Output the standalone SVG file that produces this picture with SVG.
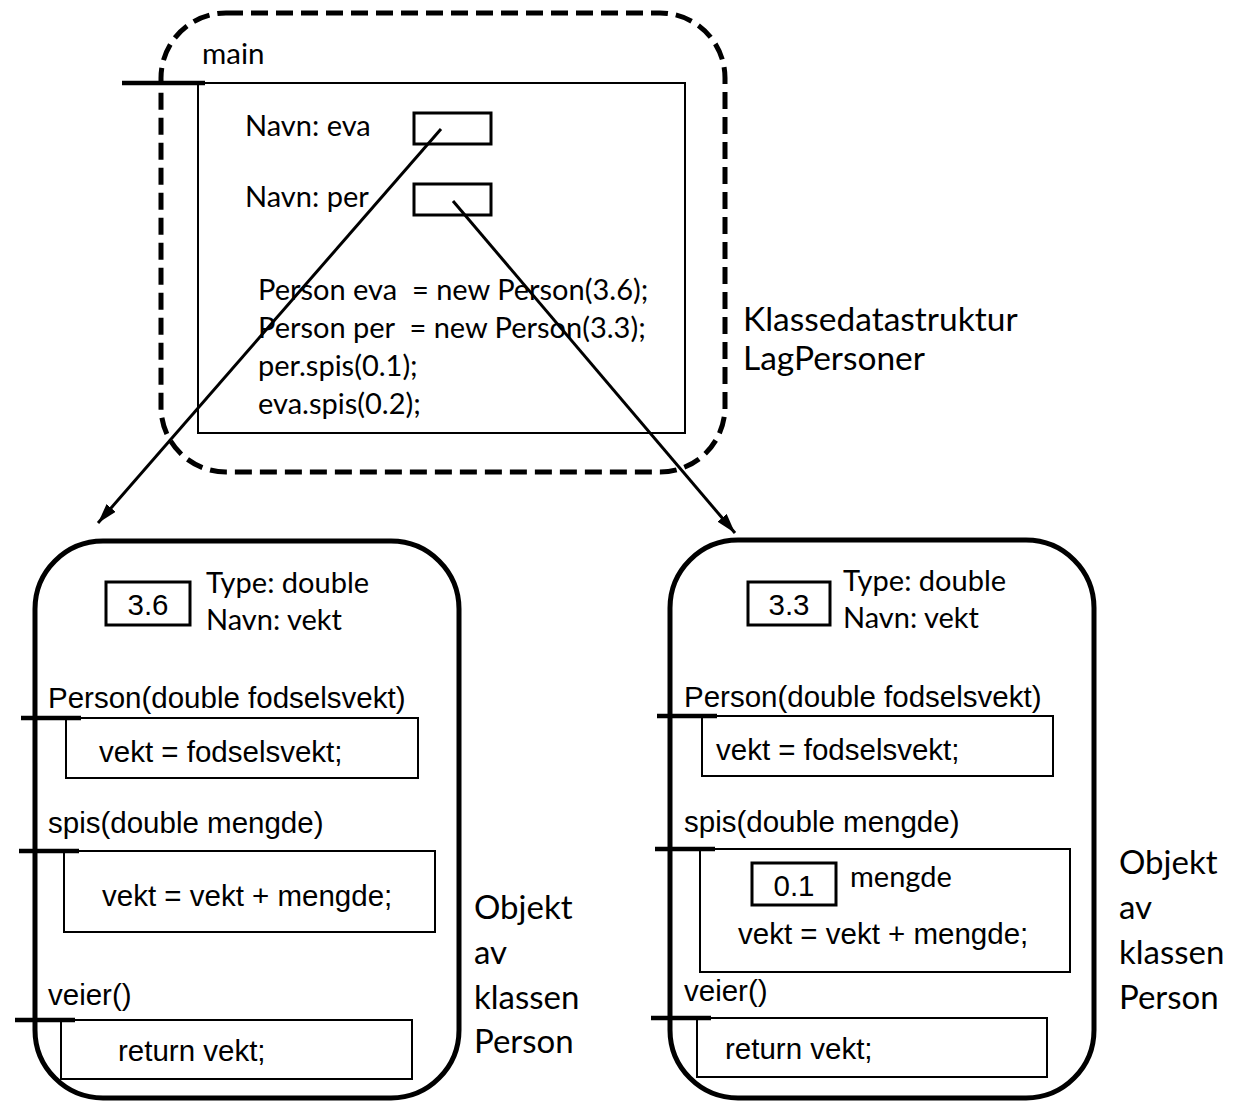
<svg xmlns="http://www.w3.org/2000/svg" width="1251" height="1101" viewBox="0 0 1251 1101">
<style>
.c{font-family:Lato,"Liberation Sans",sans-serif;fill:#000}
.a{font-family:"Liberation Sans",Arial,sans-serif;fill:#000;font-size:29.5px}
.thin{fill:none;stroke:#000;stroke-width:2}
.var{fill:none;stroke:#000;stroke-width:3}
.tick{stroke:#000;stroke-width:4.5}
.obj{fill:none;stroke:#000;stroke-width:5}
.conn{stroke:#000;stroke-width:3;fill:none}
</style>
<defs>
<marker id="arrow" viewBox="0 0 20 12" refX="20" refY="6" markerWidth="20" markerHeight="12" orient="auto" markerUnits="userSpaceOnUse">
<path d="M0,0 L20,6 L0,12 z" fill="#000"/>
</marker>
</defs>
<rect width="1251" height="1101" fill="#fff"/>

<g id="lagpersoner">
<rect x="161" y="13" width="564" height="459" rx="65" ry="65" fill="none" stroke="#000" stroke-width="5" stroke-dasharray="17 8"/>
<text class="c" x="743" y="331" font-size="33.5">Klassedatastruktur</text>
<text class="c" x="743" y="370" font-size="33.5">LagPersoner</text>
</g>

<g id="main">
<text class="c" x="202" y="64" font-size="29.5">main</text>
<rect class="thin" x="198" y="83" width="487" height="350"/>
<line class="tick" x1="122" y1="83" x2="205" y2="83"/>
<text class="c" x="245" y="136" font-size="29">Navn: eva</text>
<rect class="var" x="414" y="113" width="77" height="31"/>
<text class="c" x="245" y="207" font-size="29">Navn: per</text>
<rect class="var" x="414" y="184" width="77" height="31"/>
<text class="c" x="258" y="300" font-size="29" xml:space="preserve">Person eva  = new Person(3.6);</text>
<text class="c" x="258" y="338" font-size="29" xml:space="preserve">Person per  = new Person(3.3);</text>
<text class="c" x="258" y="376" font-size="29">per.spis(0.1);</text>
<text class="c" x="258" y="414" font-size="29">eva.spis(0.2);</text>
</g>

<g id="eva-object">
<rect class="obj" x="35" y="541" width="424" height="557" rx="68" ry="68"/>
<rect class="var" x="106" y="582" width="84" height="43"/>
<text class="a" x="148" y="615" text-anchor="middle">3.6</text>
<text class="c" x="206" y="593" font-size="29">Type: double</text>
<text class="c" x="206" y="630" font-size="29">Navn: vekt</text>
<text class="a" x="48" y="708">Person(double fodselsvekt)</text>
<rect class="thin" x="66" y="718" width="352" height="60"/>
<line class="tick" x1="21" y1="718" x2="81" y2="718"/>
<text class="a" x="99" y="762">vekt = fodselsvekt;</text>
<text class="a" x="48" y="833">spis(double mengde)</text>
<rect class="thin" x="64" y="851" width="371" height="81"/>
<line class="tick" x1="19" y1="851" x2="79" y2="851"/>
<text class="a" x="102" y="906">vekt = vekt + mengde;</text>
<text class="a" x="48" y="1005">veier()</text>
<rect class="thin" x="61" y="1020" width="351" height="59"/>
<line class="tick" x1="15" y1="1020" x2="75" y2="1020"/>
<text class="a" x="118" y="1061">return vekt;</text>
<text class="c" x="474" y="919" font-size="33">Objekt</text>
<text class="c" x="474" y="964" font-size="33">av</text>
<text class="c" x="474" y="1009" font-size="33">klassen</text>
<text class="c" x="474" y="1053" font-size="33">Person</text>
</g>

<g id="per-object">
<rect class="obj" x="670" y="540" width="424" height="558" rx="68" ry="68"/>
<rect class="var" x="748" y="582" width="82" height="43"/>
<text class="a" x="789" y="615" text-anchor="middle">3.3</text>
<text class="c" x="843" y="591" font-size="29">Type: double</text>
<text class="c" x="843" y="628" font-size="29">Navn: vekt</text>
<text class="a" x="684" y="707">Person(double fodselsvekt)</text>
<rect class="thin" x="702" y="716" width="351" height="60"/>
<line class="tick" x1="657" y1="716" x2="717" y2="716"/>
<text class="a" x="716" y="760">vekt = fodselsvekt;</text>
<text class="a" x="684" y="832">spis(double mengde)</text>
<rect class="thin" x="700" y="849" width="370" height="123"/>
<line class="tick" x1="655" y1="849" x2="715" y2="849"/>
<rect class="var" x="752" y="863" width="84" height="42"/>
<text class="a" x="794" y="896" text-anchor="middle">0.1</text>
<text class="c" x="850" y="887" font-size="29">mengde</text>
<text class="a" x="738" y="944">vekt = vekt + mengde;</text>
<text class="a" x="684" y="1001">veier()</text>
<rect class="thin" x="697" y="1018" width="350" height="59"/>
<line class="tick" x1="651" y1="1018" x2="711" y2="1018"/>
<text class="a" x="725" y="1059">return vekt;</text>
<text class="c" x="1119" y="874" font-size="33">Objekt</text>
<text class="c" x="1119" y="919" font-size="33">av</text>
<text class="c" x="1119" y="964" font-size="33">klassen</text>
<text class="c" x="1119" y="1009" font-size="33">Person</text>
</g>

<g id="connectors">
<line class="conn" x1="441" y1="129" x2="98" y2="523" marker-end="url(#arrow)"/>
<line class="conn" x1="453" y1="201" x2="735" y2="533" marker-end="url(#arrow)"/>
</g>
</svg>
